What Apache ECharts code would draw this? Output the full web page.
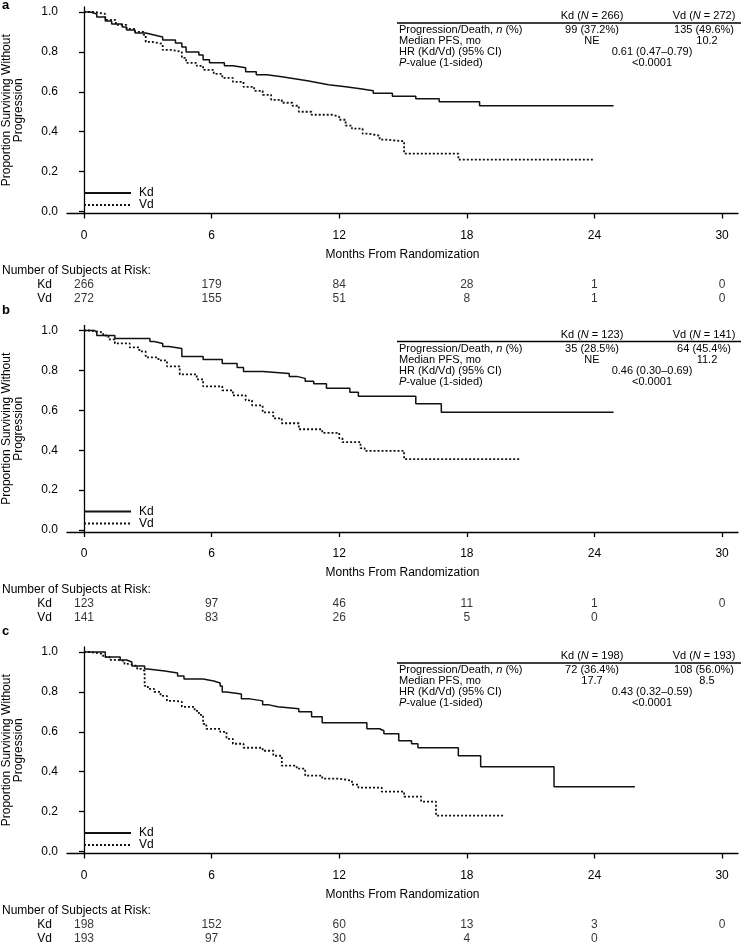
<!DOCTYPE html>
<html><head><meta charset="utf-8">
<script src="https://cdn.jsdelivr.net/npm/echarts@6/dist/echarts.min.js"></script>
<style>html,body{margin:0;padding:0;background:#fff}#c{width:741px;height:944px}</style>
</head><body><div id="c"></div>
<script>
// ---------- data ----------
const monthTicks = [0, 6, 12, 18, 24, 30];
const yTicks = [0, 0.2, 0.4, 0.6, 0.8, 1.0];
const riskMonths = [0, 6, 12, 18, 24, 30];
const armNames = ['Kd', 'Vd'];

const kdA = [[0,1],[0.3,0.99],[0.6,0.975],[1.0,0.955],[1.3,0.94],[1.8,0.925],[2.0,0.91],[2.4,0.895],[2.9,0.885],[3.3,0.875],[3.7,0.86],[4.3,0.845],[4.6,0.825],[4.8,0.80],[5.4,0.785],[5.6,0.76],[5.9,0.745],[6.6,0.73],[7.0,0.72],[7.6,0.70],[8.1,0.685],[8.6,0.675],[9.3,0.665],[9.9,0.655],[10.5,0.645],[11.0,0.635],[11.5,0.625],[12.3,0.615],[13.0,0.605],[13.6,0.593],[14.5,0.578],[15.6,0.565],[16.7,0.55],[18.6,0.53],[24.9,0.53]];
const vdA = [[0,1],[0.5,0.99],[1.0,0.96],[1.5,0.935],[2.0,0.915],[2.4,0.90],[2.8,0.885],[2.9,0.85],[3.2,0.84],[3.7,0.81],[4.1,0.80],[4.6,0.77],[4.8,0.745],[5.3,0.73],[5.6,0.71],[6.1,0.69],[6.5,0.67],[7.0,0.65],[7.5,0.625],[8.0,0.605],[8.4,0.585],[8.8,0.56],[9.3,0.545],[9.8,0.53],[10.1,0.50],[10.7,0.485],[11.7,0.475],[12.0,0.46],[12.3,0.43],[12.6,0.415],[13.1,0.39],[13.4,0.38],[13.9,0.36],[14.2,0.352],[15.05,0.29],[17.6,0.26],[24.0,0.26]];

const kdB = [[0,1],[0.5,0.99],[0.6,0.975],[1.45,0.96],[3.1,0.945],[3.3,0.935],[3.7,0.92],[4.0,0.91],[4.6,0.87],[5.6,0.855],[6.5,0.835],[7.2,0.815],[7.5,0.795],[8.4,0.785],[9.65,0.77],[10.0,0.76],[10.4,0.745],[10.8,0.733],[11.4,0.71],[12.5,0.69],[12.9,0.67],[15.6,0.633],[16.8,0.59],[24.9,0.59]];
const vdB = [[0,1],[0.3,0.99],[0.9,0.975],[1.15,0.955],[1.45,0.935],[2.15,0.915],[2.6,0.895],[2.9,0.865],[3.5,0.85],[3.9,0.82],[4.5,0.78],[5.3,0.755],[5.6,0.72],[6.5,0.70],[7.0,0.675],[7.6,0.65],[7.9,0.625],[8.4,0.59],[8.9,0.56],[9.3,0.535],[10.1,0.505],[11.2,0.487],[12.0,0.46],[12.15,0.44],[13.0,0.41],[13.2,0.397],[15.05,0.355],[20.5,0.355]];

const kdC = [[0,1],[1.0,0.975],[1.7,0.96],[2.0,0.95],[2.25,0.93],[2.85,0.915],[3.0,0.905],[3.8,0.895],[4.4,0.88],[4.7,0.865],[5.6,0.855],[6.1,0.845],[6.4,0.83],[6.5,0.80],[6.7,0.79],[7.4,0.765],[7.8,0.755],[8.4,0.735],[8.7,0.725],[9.1,0.715],[10.1,0.70],[10.7,0.675],[11.2,0.645],[13.3,0.615],[13.9,0.605],[14.1,0.59],[14.8,0.555],[15.4,0.54],[15.7,0.52],[17.6,0.48],[18.65,0.425],[22.1,0.325],[25.9,0.325]];
const vdC = [[0,1],[0.3,0.99],[0.9,0.975],[1.2,0.96],[1.6,0.955],[1.9,0.94],[2.15,0.93],[2.5,0.915],[2.7,0.905],[2.85,0.83],[3.0,0.815],[3.3,0.80],[3.6,0.78],[3.9,0.755],[4.3,0.75],[4.6,0.725],[5.2,0.705],[5.4,0.685],[5.6,0.64],[5.75,0.615],[6.4,0.60],[6.7,0.565],[7.0,0.54],[7.5,0.52],[8.4,0.505],[8.9,0.48],[9.3,0.43],[10.0,0.415],[10.4,0.38],[11.2,0.365],[12.0,0.355],[12.6,0.335],[12.9,0.32],[14.0,0.30],[15.05,0.275],[15.85,0.25],[16.55,0.18],[19.8,0.18]];

const riskKdA = [266, 179, 84, 28, 1, 0];
const riskVdA = [272, 155, 51, 8, 1, 0];
const riskKdB = [123, 97, 46, 11, 1, 0];
const riskVdB = [141, 83, 26, 5, 0];
const riskKdC = [198, 152, 60, 13, 3, 0];
const riskVdC = [193, 97, 30, 4, 0];

const statLabels = ['Progression/Death, {i|n} (%)', 'Median PFS, mo', 'HR (Kd/Vd) (95% CI)', '{i|P}-value (1-sided)'];
const nA = [266, 272], nB = [123, 141], nC = [198, 193];
const eventsA = ['99 (37.2%)', '135 (49.6%)'];
const eventsB = ['35 (28.5%)', '64 (45.4%)'];
const eventsC = ['72 (36.4%)', '108 (56.0%)'];
const medianA = ['NE', '10.2'];
const medianB = ['NE', '11.2'];
const medianC = ['17.7', '8.5'];
const hrA = '0.61 (0.47\u20130.79)', hrB = '0.46 (0.30\u20130.69)', hrC = '0.43 (0.32\u20130.59)';
const pA = '<0.0001', pB = '<0.0001', pC = '<0.0001';

// ---------- layout ----------
const FONT = '"Liberation Sans", Arial, Helvetica, sans-serif';
const INK = '#111';
const panels = [
  {letter:'a', off:0,     letterY:5,   kd:kdA, vd:vdA, rk:riskKdA, rv:riskVdA, n:nA, ev:eventsA, med:medianA, hr:hrA, p:pA},
  {letter:'b', off:318.5, letterY:310, kd:kdB, vd:vdB, rk:riskKdB, rv:riskVdB, n:nB, ev:eventsB, med:medianB, hr:hrB, p:pB},
  {letter:'c', off:640,   letterY:631, kd:kdC, vd:vdC, rk:riskKdC, rv:riskVdC, n:nC, ev:eventsC, med:medianC, hr:hrC, p:pC}
];
const XMIN = -0.8, XMAX = 30.75, GL = 67, GW = 671;

const grid = [], xAxis = [], yAxis = [], series = [], legend = [], graphic = [];
const axisLineStyle = {color: '#000', width: 1.3};
const txt = (text, x, y, size, align, extra) => ({
  type: 'text', x: x, y: y, silent: true,
  style: Object.assign({text: text, fontSize: size, fontFamily: FONT, fill: '#000',
    textAlign: align, textVerticalAlign: 'middle', verticalAlign: 'middle',
    rich: {i: {fontStyle: 'italic', fontSize: size, fontFamily: FONT, fill: '#000'}}}, extra || {})
});

panels.forEach((p, i) => {
  const o = p.off;
  // main KM grid
  grid.push({left: GL, width: GW, top: 7 + o, height: 206.5, outerBoundsMode: 'none', containLabel: false});
  const gi = grid.length - 1;
  xAxis.push({
    gridIndex: gi, type: 'value', min: XMIN, max: XMAX,
    axisLine: {show: true, onZero: false, lineStyle: axisLineStyle},
    axisTick: {show: true, customValues: monthTicks, length: 5, lineStyle: axisLineStyle},
    axisLabel: {customValues: monthTicks, margin: 16, fontSize: 12, fontFamily: FONT, color: '#000'},
    splitLine: {show: false},
    name: 'Months From Randomization', nameLocation: 'middle', nameGap: 35,
    nameTextStyle: {fontSize: 12, fontFamily: FONT, color: '#000'}
  });
  yAxis.push({
    gridIndex: gi, type: 'value', min: -0.01, max: 1.025,
    axisLine: {show: true, lineStyle: axisLineStyle},
    axisTick: {show: true, customValues: yTicks, length: 5, lineStyle: axisLineStyle},
    axisLabel: {customValues: yTicks, formatter: v => v.toFixed(1), margin: 9, fontSize: 12, fontFamily: FONT, color: '#000'},
    splitLine: {show: false},
    name: 'Proportion Surviving Without\nProgression', nameLocation: 'middle', nameGap: 42, nameRotate: 90,
    nameTextStyle: {fontSize: 12, lineHeight: 12, fontFamily: FONT, color: '#000'}
  });
  const ax = xAxis.length - 1;
  series.push({
    name: armNames[0], type: 'line', step: 'end', xAxisIndex: ax, yAxisIndex: ax, data: p.kd,
    symbol: 'none', color: INK, lineStyle: {color: INK, width: 1.5}, silent: true, animation: false
  });
  series.push({
    name: armNames[1], type: 'line', step: 'end', xAxisIndex: ax, yAxisIndex: ax, data: p.vd,
    symbol: 'none', color: INK, lineStyle: {color: INK, width: 1.8, type: [2, 2]}, silent: true, animation: false
  });
  legend.push({
    data: armNames, orient: 'vertical', left: 83, top: 187 + o, itemWidth: 47, itemHeight: 10, itemGap: 0,
    padding: 0, selectedMode: false, itemStyle: {opacity: 0},
    textStyle: {fontSize: 12, lineHeight: 10, fontFamily: FONT, color: '#000', padding: [0, 0, 0, 3]}
  });

  // risk table grid
  grid.push({left: GL, width: GW, top: 278 + o, height: 28, outerBoundsMode: 'none', containLabel: false});
  const rg = grid.length - 1;
  xAxis.push({gridIndex: rg, type: 'value', min: XMIN, max: XMAX, show: false});
  yAxis.push({
    gridIndex: rg, type: 'category', data: armNames, inverse: true,
    axisLine: {show: false}, axisTick: {show: false}, splitLine: {show: false},
    axisLabel: {interval: 0, margin: 15, fontSize: 12, fontFamily: FONT, color: '#000'}
  });
  const rx = xAxis.length - 1;
  [[p.rk, armNames[0]], [p.rv, armNames[1]]].forEach(([vals, arm]) => {
    series.push({
      type: 'scatter', xAxisIndex: rx, yAxisIndex: rx, symbolSize: 1, silent: true, animation: false,
      itemStyle: {color: 'rgba(0,0,0,0)'},
      label: {show: true, position: 'inside', formatter: d => d.value[2], fontSize: 12, fontFamily: FONT, color: '#000'},
      labelLayout: {hideOverlap: false},
      data: vals.map((v, j) => [riskMonths[j], arm, v])
    });
  });

  // texts
  graphic.push(txt(p.letter, 2, p.letterY, 13, 'left', {fontWeight: 'bold'}));
  graphic.push(txt('Number of Subjects at Risk:', 2, 271 + o, 12, 'left'));
  graphic.push(txt('Kd ({i|N} = ' + p.n[0] + ')', 592, 16 + o, 11, 'center'));
  graphic.push(txt('Vd ({i|N} = ' + p.n[1] + ')', 704, 16 + o, 11, 'center'));
  graphic.push({type: 'line', silent: true, shape: {x1: 397, y1: 23 + o, x2: 741, y2: 23 + o},
    style: {stroke: '#000', lineWidth: 1.5}});
  statLabels.forEach((s, r) => graphic.push(txt(s, 399, 30 + o + r * 11, 11, 'left')));
  graphic.push(txt(p.ev[0], 592, 30 + o, 11, 'center'));
  graphic.push(txt(p.ev[1], 704, 30 + o, 11, 'center'));
  graphic.push(txt(p.med[0], 592, 41 + o, 11, 'center'));
  graphic.push(txt(p.med[1], 707, 41 + o, 11, 'center'));
  graphic.push(txt(p.hr, 652, 52 + o, 11, 'center'));
  graphic.push(txt(p.p, 652, 63 + o, 11, 'center'));
});

const chart = echarts.init(document.getElementById('c'), null, {renderer: 'canvas'});
chart.setOption({
  animation: false, backgroundColor: '#fff',
  textStyle: {fontFamily: FONT},
  grid, xAxis, yAxis, series, legend, graphic
});
</script></body></html>
